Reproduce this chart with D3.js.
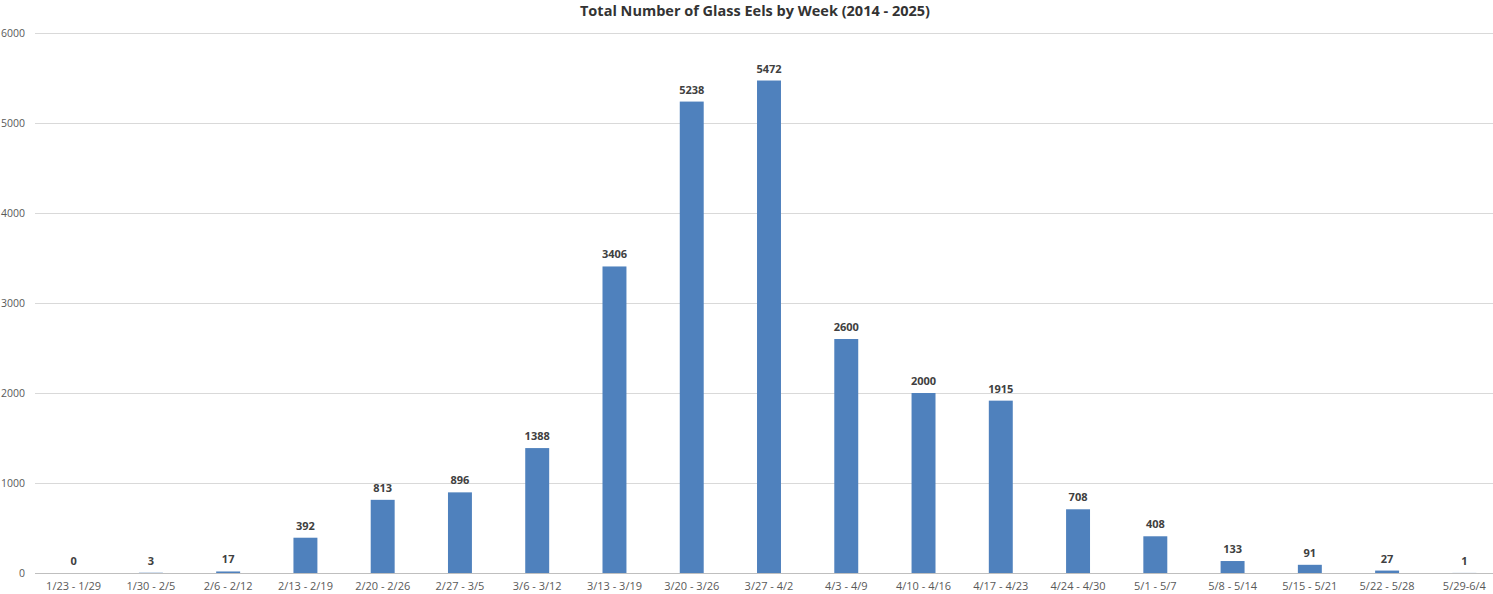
<!DOCTYPE html>
<html>
<head>
<meta charset="utf-8">
<script src="https://cdn.jsdelivr.net/npm/d3@7"></script>
<style>
  body { margin: 0; background: #fff; }
  svg { display: block; font-family: "Open Sans", "Noto Sans", sans-serif; }
</style>
</head>
<body>
<div id="chart"></div>
<script>
const width = 1493;
const height = 594;

const weeks = ['1/23 - 1/29', '1/30 - 2/5', '2/6 - 2/12', '2/13 - 2/19', '2/20 - 2/26',
  '2/27 - 3/5', '3/6 - 3/12', '3/13 - 3/19', '3/20 - 3/26', '3/27 - 4/2', '4/3 - 4/9',
  '4/10 - 4/16', '4/17 - 4/23', '4/24 - 4/30', '5/1 - 5/7', '5/8 - 5/14', '5/15 - 5/21',
  '5/22 - 5/28', '5/29-6/4'];
const eelCounts = [0, 3, 17, 392, 813, 896, 1388, 3406, 5238, 5472, 2600, 2000, 1915,
  708, 408, 133, 91, 27, 1];
const yTicks = [0, 1000, 2000, 3000, 4000, 5000, 6000];

const title = 'Total Number of Glass Eels by Week (2014 - 2025)';

const svg = d3.select('#chart')
  .append('svg')
  .attr('width', width)
  .attr('height', height);

// plot area runs slightly past the right edge (the source image is cropped)
const xscale = d3.scaleBand().domain(weeks).range([35, 1503]).paddingInner(0.69).paddingOuter(0.345);
const yscale = d3.scaleLinear().domain([0, 6000]).range([573, 33]);

// gridlines
svg.append('g')
  .selectAll('line')
  .data(yTicks.filter(d => d > 0))
  .join('line')
  .attr('x1', 35)
  .attr('x2', width)
  .attr('y1', d => yscale(d) + 0.5)
  .attr('y2', d => yscale(d) + 0.5)
  .attr('stroke', '#d9d9d9')
  .attr('stroke-width', 1);

// y axis labels, plain integers (no thousands separator)
const yaxis = d3.axisLeft(yscale).tickValues(yTicks).tickFormat(d3.format('d')).tickSize(0).tickPadding(10);
svg.append('g')
  .attr('transform', 'translate(35,0)')
  .call(yaxis)
  .call(g => g.select('.domain').remove())
  .call(g => g.selectAll('text')
    .attr('fill', '#595959')
    .style('font-size', '10.5px')
    .style('font-family', '"Open Sans", sans-serif'));

// bars
svg.append('g')
  .selectAll('rect')
  .data(eelCounts)
  .join('rect')
  .attr('x', (d, i) => xscale(weeks[i]))
  .attr('y', d => yscale(d))
  .attr('width', xscale.bandwidth())
  .attr('height', d => yscale(0) - yscale(d))
  .attr('fill', '#4f81bd');

// x axis
const xaxis = d3.axisBottom(xscale).tickSize(0).tickPadding(9);
svg.append('g')
  .attr('transform', 'translate(0,' + yscale(0) + ')')
  .call(xaxis)
  .call(g => g.select('.domain').attr('stroke', '#bfbfbf').attr('d', 'M35,0.5H' + width))
  .call(g => g.selectAll('text')
    .attr('fill', '#595959')
    .style('font-size', '11px')
    .style('font-family', '"Open Sans", sans-serif'));

// value labels
svg.append('g')
  .selectAll('text')
  .data(eelCounts)
  .join('text')
  .attr('x', (d, i) => xscale(weeks[i]) + xscale.bandwidth() / 2)
  .attr('y', d => yscale(d) - 8)
  .attr('text-anchor', 'middle')
  .attr('fill', '#404040')
  .style('font-size', '11px')
  .style('font-weight', 'bold')
  .text(d => d);

// title
svg.append('text')
  .attr('x', 755)
  .attr('y', 16)
  .attr('text-anchor', 'middle')
  .attr('fill', '#333')
  .style('font-size', '14.5px')
  .style('font-weight', 'bold')
  .text(title);
</script>
</body>
</html>
